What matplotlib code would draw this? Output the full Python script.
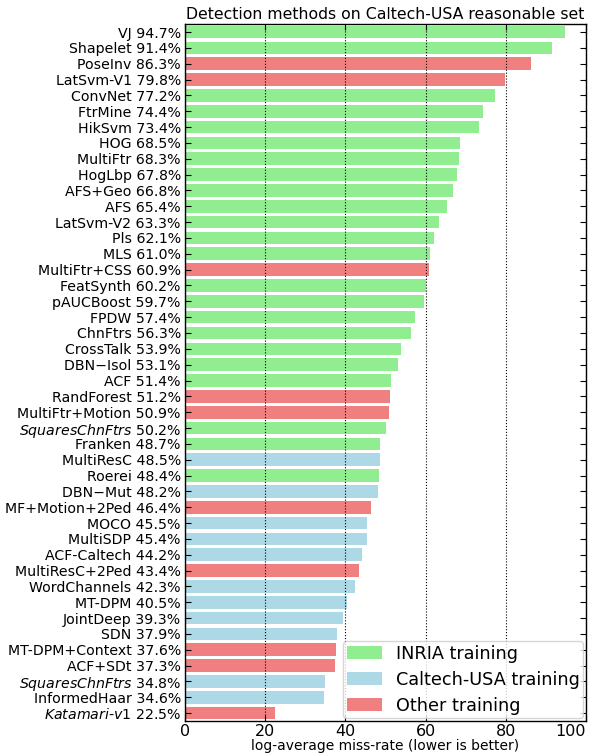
import numpy as np
import matplotlib
matplotlib.use("Agg")
import matplotlib.pyplot as plt
from matplotlib.patches import Patch

# ---------- Data ----------
methods = ["VJ", "Shapelet", "PoseInv", "LatSvm-V1", "ConvNet", "FtrMine", "HikSvm",
           "HOG", "MultiFtr", "HogLbp", "AFS+Geo", "AFS", "LatSvm-V2", "Pls", "MLS",
           "MultiFtr+CSS", "FeatSynth", "pAUCBoost", "FPDW", "ChnFtrs", "CrossTalk",
           "DBN\u2212Isol", "ACF", "RandForest", "MultiFtr+Motion", "SquaresChnFtrs",
           "Franken", "MultiResC", "Roerei", "DBN\u2212Mut", "MF+Motion+2Ped", "MOCO",
           "MultiSDP", "ACF-Caltech", "MultiResC+2Ped", "WordChannels", "MT-DPM",
           "JointDeep", "SDN", "MT-DPM+Context", "ACF+SDt", "SquaresChnFtrs",
           "InformedHaar", "Katamari-v1"]
miss_rate = [94.7, 91.4, 86.3, 79.8, 77.2, 74.4, 73.4, 68.5, 68.3, 67.8, 66.8, 65.4,
             63.3, 62.1, 61.0, 60.9, 60.2, 59.7, 57.4, 56.3, 53.9, 53.1, 51.4, 51.2,
             50.9, 50.2, 48.7, 48.5, 48.4, 48.2, 46.4, 45.5, 45.4, 44.2, 43.4, 42.3,
             40.5, 39.3, 37.9, 37.6, 37.3, 34.8, 34.6, 22.5]
# I = INRIA, C = Caltech-USA, O = other
training = ["I", "I", "O", "O", "I", "I", "I", "I", "I", "I", "I", "I", "I", "I", "I",
            "O", "I", "I", "I", "I", "I", "I", "I", "O", "O", "I", "I", "C", "I", "C",
            "O", "C", "C", "C", "O", "C", "C", "C", "C", "O", "O", "C", "C", "O"]
italic = {25, 41, 43}
xticks = [0, 20, 40, 60, 80, 100]

colors = {"I": "lightgreen", "C": "lightblue", "O": "lightcoral"}
legend_names = {"I": "INRIA training", "C": "Caltech-USA training", "O": "Other training"}


def make_label(i, name, value):
    if i in italic:
        parts = name.split("-")
        name = "-".join(r"$\mathit{%s}$" % p for p in parts)
    return "%s %.1f%%" % (name, value)


# ---------- Plot ----------
fig = plt.figure(figsize=(5.9, 7.55), dpi=100)
ax = fig.add_axes([0.3136, 0.045, 0.6797, 0.923])

y = np.arange(len(methods))
ax.barh(y, miss_rate, height=0.8, color=[colors[t] for t in training],
        edgecolor="none", align="center")

ax.set_ylim(len(methods) - 0.5, -0.5)
ax.set_xlim(0, 100)
ax.set_yticks(y)
ax.set_yticklabels([make_label(i, n, v) for i, (n, v) in enumerate(zip(methods, miss_rate))],
                   fontsize=10.2)
ax.set_xticks(xticks)
ax.tick_params(axis="x", labelsize=11.5, pad=2)
ax.tick_params(axis="y", pad=3)
ax.tick_params(direction="in", length=4, top=True, right=True)
# keep the last x label inside the figure
ax.get_xticklabels()[-1].set_horizontalalignment("right")
ax.xaxis.grid(True, linestyle=":", color="black", linewidth=0.8)
ax.set_axisbelow(False)
for s in ax.spines.values():
    s.set_linewidth(1.0)

ax.set_xlabel("log-average miss-rate (lower is better)", fontsize=10, labelpad=0)
ax.set_title("Detection methods on Caltech-USA reasonable set", fontsize=11.3, pad=4)

handles = [Patch(facecolor=colors[k], edgecolor="none", label=legend_names[k])
           for k in ["I", "C", "O"]]
ax.legend(handles=handles, loc="lower right", fontsize=12.7, fancybox=True,
          framealpha=0.8, borderaxespad=0.15, borderpad=0.2, handlelength=2.0,
          handleheight=0.75, handletextpad=0.8, labelspacing=0.45)

fig.savefig("out.png", dpi=100)
